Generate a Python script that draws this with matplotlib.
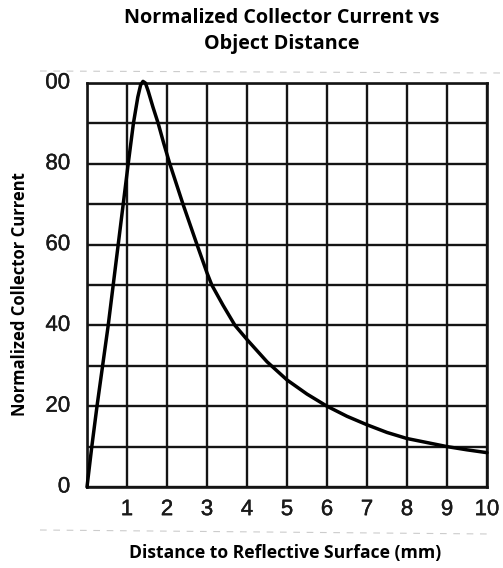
import matplotlib
matplotlib.use("Agg")
import matplotlib.pyplot as plt
import matplotlib.patheffects as pe
from matplotlib.transforms import Bbox

# Data
distance_mm = [0, 0.12, 0.25, 0.53, 0.78, 1.03, 1.16, 1.27, 1.34, 1.40, 1.46, 1.53, 1.65, 1.78,
               1.92, 2.07, 2.4, 2.75, 3.0, 3.12, 3.4, 3.7, 4.0, 4.5, 5.0, 5.5, 6.0,
               6.5, 7.0, 7.5, 8.0, 8.5, 9.0, 9.5, 10.0]
norm_current = [0, 10, 20, 40, 60, 80, 90, 96.5, 99.5, 100.4, 100, 98, 94, 90,
                85, 80, 70, 60, 53, 50, 45, 40, 36.5, 31, 26.5, 23, 20,
                17.5, 15.4, 13.5, 12, 11, 10, 9.2, 8.5]
x_ticks = [1, 2, 3, 4, 5, 6, 7, 8, 9, 10]
y_ticks = [0, 20, 40, 60, 80, 100]
y_tick_labels = ["0", "20", "40", "60", "80", "100"]

title_text = "Normalized Collector Current vs\nObject Distance"
x_label = "Distance to Reflective Surface (mm)"
y_label = "Normalized Collector Current"

W, H = 503, 568
fig = plt.figure(figsize=(W / 100, H / 100), dpi=100)
ax = fig.add_axes([87 / W, 1 - 487 / H, 400 / W, 404 / H])

ax.set_xlim(0, 10)
ax.set_ylim(0, 100)

# grid
ax.set_xticks(range(0, 11))
ax.set_yticks(range(0, 101, 10))
ax.grid(True, color="#141414", linewidth=1.7)
ax.set_axisbelow(True)
ax.tick_params(length=0, labelbottom=False, labelleft=False)
for s in ax.spines.values():
    s.set_color("#141414")
    s.set_linewidth(1.9)

ax.plot(distance_mm, norm_current, color="black", linewidth=2.5,
        solid_joinstyle="round", solid_capstyle="round", zorder=3, clip_on=False)

# tick labels (drawn as text, scan-like font)
thick = [pe.withStroke(linewidth=0.3, foreground="#1a1a1a")]
tick_font = dict(family="Liberation Sans", fontsize=16, color="#1a1a1a")
for xt in x_ticks:
    ax.text(xt, -5.6, str(xt), ha="center", va="center", path_effects=thick, **tick_font)
clip = Bbox.from_extents(45, 0, W, H)
for yt, lab in zip(y_ticks, y_tick_labels):
    t = ax.text(-0.42, yt, lab, ha="right", va="center", path_effects=thick, **tick_font)
    if lab == "100":
        t.set_clip_on(True)
        t.set_clip_box(clip)

# titles and axis labels
fig.text(282 / W, 1 - 31 / H, title_text, ha="center", va="center",
         family="Open Sans", fontweight="bold", fontsize=14.2, linespacing=1.38)
fig.text(285 / W, 1 - 553 / H, x_label, ha="center", va="center",
         family="Open Sans", fontweight="bold", fontsize=12.6)
fig.text(20 / W, 1 - 294 / H, y_label, ha="center", va="center", rotation=90,
         family="Open Sans", fontweight="bold", fontsize=12.0)

# faint scan edge lines
fig.add_artist(plt.Line2D([40 / W, 1], [1 - 71 / H, 1 - 73 / H], color="#cccccc",
                          linewidth=0.8, linestyle=(0, (6, 6))))
fig.add_artist(plt.Line2D([40 / W, 490 / W], [1 - 530 / H, 1 - 534 / H], color="#cccccc",
                          linewidth=0.8, linestyle=(0, (6, 6))))

fig.savefig("out.png", dpi=100)
